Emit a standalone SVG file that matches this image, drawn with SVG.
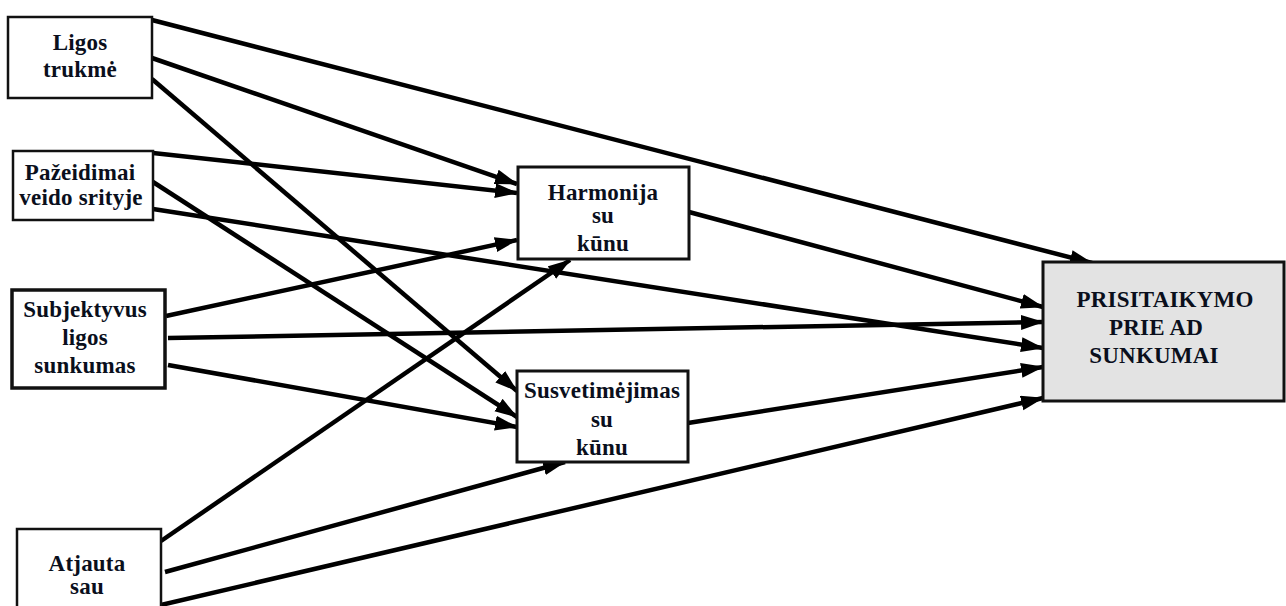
<svg xmlns="http://www.w3.org/2000/svg" width="1286" height="606" viewBox="0 0 1286 606">
<style>
.box{fill:#fff;stroke:#111;stroke-width:2.5}
.main{fill:#e3e3e3;stroke:#111;stroke-width:3}
.t{font-family:"Liberation Serif","Times New Roman",serif;font-weight:bold;font-size:23px;letter-spacing:0.2px;fill:#0a0f1c;text-anchor:middle}
.c line{stroke:#000;stroke-width:4.5;marker-end:url(#ah)}
</style>
<defs>
<marker id="ah" markerUnits="userSpaceOnUse" markerWidth="24" markerHeight="16" refX="22" refY="7.5" orient="auto">
<path d="M0,0 L23,7.5 L0,15 z" fill="#000"/>
</marker>
</defs>
<rect width="1286" height="606" fill="#fff"/>
<g id="connectors" class="c">
<line x1="152" y1="20" x2="1092" y2="263"/>
<line x1="152" y1="58" x2="517" y2="184"/>
<line x1="152" y1="79" x2="517" y2="391"/>
<line x1="153" y1="153" x2="517" y2="193"/>
<line x1="153" y1="182" x2="517" y2="417"/>
<line x1="153" y1="209" x2="1043" y2="348"/>
<line x1="166" y1="316" x2="517" y2="240"/>
<line x1="168" y1="338" x2="1043" y2="322"/>
<line x1="168" y1="365" x2="517" y2="427"/>
<line x1="161" y1="541" x2="570" y2="260"/>
<line x1="165" y1="572" x2="565" y2="462"/>
<line x1="161" y1="605" x2="1043" y2="398"/>
<line x1="689" y1="212" x2="1043" y2="307"/>
<line x1="688" y1="423" x2="1043" y2="367"/>
</g>
<g id="ligos">
<rect class="box" x="8" y="17" width="144" height="81"/>
<text class="t" x="80" y="50">Ligos</text>
<text class="t" x="80" y="77">trukmė</text>
</g>
<g id="pazeidimai">
<rect class="box" x="13" y="151" width="140" height="69"/>
<text class="t" x="80" y="180">Pažeidimai</text>
<text class="t" x="81" y="205">veido srityje</text>
</g>
<g id="subjektyvus">
<rect class="box" x="12" y="290" width="153" height="98" style="stroke-width:3.5"/>
<text class="t" x="85" y="317">Subjektyvus</text>
<text class="t" x="85" y="345">ligos</text>
<text class="t" x="85" y="373">sunkumas</text>
</g>
<g id="atjauta">
<rect class="box" x="17" y="529" width="144" height="100"/>
<text class="t" x="87" y="571">Atjauta</text>
<text class="t" x="87" y="594">sau</text>
</g>
<g id="harmonija">
<rect class="box" x="518" y="167" width="171" height="92" style="stroke-width:3"/>
<text class="t" x="603" y="200">Harmonija</text>
<text class="t" x="603" y="223">su</text>
<text class="t" x="603" y="251">kūnu</text>
</g>
<g id="susvetimejimas">
<rect class="box" x="517" y="371" width="171" height="91" style="stroke-width:3"/>
<text class="t" x="602" y="398">Susvetimėjimas</text>
<text class="t" x="602" y="427">su</text>
<text class="t" x="602" y="455">kūnu</text>
</g>
<g id="prisitaikymo">
<rect class="main" x="1043" y="262" width="241" height="139"/>
<text class="t" x="1165" y="307">PRISITAIKYMO</text>
<text class="t" x="1156" y="335">PRIE AD</text>
<text class="t" x="1154" y="363">SUNKUMAI</text>
</g>
</svg>
